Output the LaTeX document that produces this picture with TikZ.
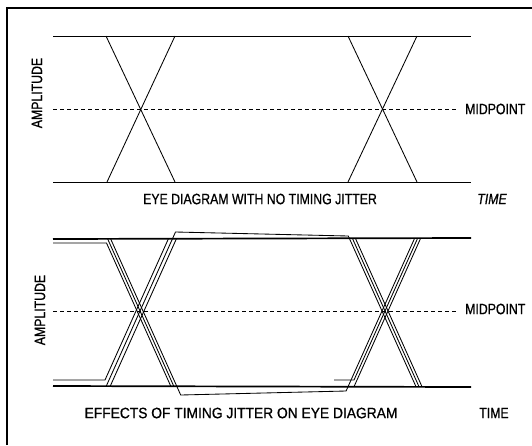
\documentclass[tikz,border=0pt]{standalone}
\usepackage{fontspec}
\setmainfont{Liberation Sans}[FakeStretch=0.82, FakeBold=0.8]
\newfontfamily\widecap{Liberation Sans}[FakeStretch=0.92, FakeBold=0.8]
\usetikzlibrary{positioning}

\begin{document}
\begin{tikzpicture}[x=1pt, y=-1pt, font=\fontsize{15}{17}\selectfont,
trace/.style={line width=0.85pt, line join=round},
rail/.style={line width=1.7pt},
midline/.style={line width=0.7pt, dash pattern=on 4pt off 3pt},
lbl/.style={inner sep=0pt}]
\useasboundingbox (0,0) rectangle (532,445);
\draw[line width=2.2pt] (7,445) -- (7,8) -- (532,8);
% no jitter
\draw[trace] (53,36) -- (471,36); \draw[trace] (53,182) -- (471,182);
\draw[trace] (106,36) -- (175,182); \draw[trace] (175,36) -- (107,182);
\draw[trace] (348,36) -- (417,182); \draw[trace] (417,36) -- (348,182);
\draw[midline] (53,109) -- (456,109);
\node[lbl, anchor=west] (mid1) at (465,109) {MIDPOINT};
\node[lbl, rotate=90] (amp1) at (37,93) {AMPLITUDE};
\node[lbl] (cap1) at (260,199) {EYE DIAGRAM WITH NO TIMING JITTER};
\node[lbl] (time1) at (492,199) {\itshape TIME};
% with jitter
\draw[rail] (53,239) -- (471,238); \draw[rail] (53,386) -- (471,387);
\draw[trace] (53,243) -- (104,243) -- (106.5,243) -- (170.7,386);
\draw[trace] (107.7,239) -- (173.7,386);
\draw[trace] (110.7,239) -- (180.7,395) -- (346.1,391) -- (414.3,239);
\draw[trace] (53,380) -- (105,380) -- (168.3,239);
\draw[trace] (106.3,386) -- (175.5,232) -- (348.3,236) -- (415.7,386);
\draw[trace] (110.3,386) -- (176.3,239);
\draw[trace] (352.7,239) -- (418.7,386); \draw[trace] (355.7,239) -- (421.7,386);
\draw[trace] (334,380) -- (354,380) -- (417.3,239); \draw[trace] (354.3,386) -- (420.3,239);
\draw[midline] (53,311) -- (456,311);
\node[lbl, anchor=west] (mid2) at (465,309) {MIDPOINT};
\node[lbl, rotate=90] (amp2) at (40,310) {AMPLITUDE};
\node[lbl] (cap2) at (241,413) {\widecap EFFECTS OF TIMING JITTER ON EYE DIAGRAM};
\node[lbl] (time2) at (494,413) {TIME};
\end{tikzpicture}
\end{document}
